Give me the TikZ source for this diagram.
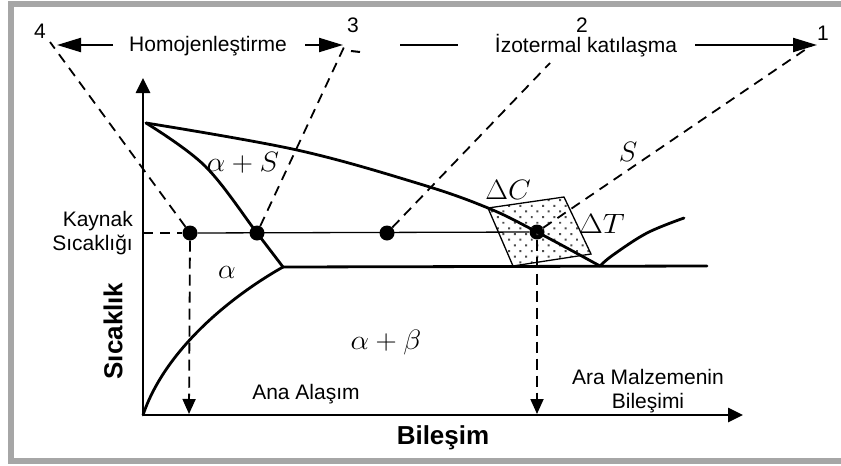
\RequirePackage{fix-cm}
\documentclass[tikz,border=0pt]{standalone}
\usepackage[no-math]{fontspec}
\setmainfont{Liberation Sans}
\usepackage{graphicx}
\usetikzlibrary{arrows.meta,patterns.meta}

\begin{document}
\begin{tikzpicture}[x=1pt,y=-1pt,
  curve/.style={line width=2.8pt, line join=round, line cap=round},
  axisline/.style={line width=2.6pt, -{Triangle[length=15pt,width=14pt]}},
  guide/.style={line width=1.8pt, dash pattern=on 10pt off 7pt},
  drop/.style={line width=1.8pt, dash pattern=on 11pt off 6pt, -{Triangle[length=15pt,width=13pt]}},
  toparrow/.style={line width=2.2pt, -{Triangle[length=24pt,width=14pt]}},
  dot/.style={circle, fill=black, inner sep=0pt, minimum size=15pt},
  txt/.style={font=\fontsize{21}{23}\selectfont, inner sep=0pt},
  bold/.style={font=\fontsize{26}{28}\selectfont\bfseries, inner sep=0pt},
  mth/.style={font=\fontsize{28}{30}\selectfont, inner sep=0pt}
]
\useasboundingbox (0,0) rectangle (841,466);
\clip (0,0) rectangle (841,466);

% outer frame
\draw[line width=6pt, color={rgb,255:red,166;green,166;blue,166}] (11,3.5) rectangle (860,461);

% axes
\coordinate (O) at (143,415);
\coordinate (ytop) at (143,78);
\coordinate (xend) at (743,415);
\draw[axisline] (O) -- (ytop);
\draw[axisline] (O) -- (xend);

% points at the welding temperature
\node[dot] (d1) at (190,233) {};
\node[dot] (d2) at (257,233) {};
\node[dot] (d3) at (387,233) {};
\node[dot] (d4) at (537,232) {};

% shaded window around the interface point
\coordinate (q1) at (488,208);
\coordinate (q2) at (564,197);
\coordinate (q3) at (591,254);
\coordinate (q4) at (513,266);
\draw[line width=1.3pt, pattern={Dots[distance=8pt, radius=1.4pt, angle=45]}, pattern color=black!70]
  (q1) -- (q2) -- (q3) -- (q4) -- cycle;

% phase boundaries
\coordinate (A) at (146,123);
\coordinate (E) at (283,267);
\coordinate (V) at (600,266);
\draw[curve] plot[smooth, tension=0.6] coordinates {(146,123) (297,150) (420,184) (488,208) (537,232) (600,266)};
\draw[curve] plot[smooth, tension=0.6] coordinates {(146,123) (205,166) (257,233) (283,267)};
\draw[curve] (E) .. controls (230,297) and (165,350) .. (O);
\draw[curve] (E) -- (707,266);
\draw[curve] plot[smooth, tension=0.6] coordinates {(600,266) (613,255) (647,233) (684,218)};

% welding temperature line
\coordinate (yk) at (143,233);
\draw[guide] (yk) -- (d1);
\draw[line width=1.3pt] (d1) -- (d4);

% guide lines to the numbered stages
\coordinate (p4) at (50,42);
\coordinate (p3) at (345,45);
\coordinate (p2) at (550,63);
\coordinate (p1) at (812,45);
\draw[guide] (d1) -- (p4);
\draw[guide] (d2) -- (p3);
\draw[guide] (d3) -- (p2);
\draw[guide] (d4) -- (p1);

% composition drop lines
\coordinate (c1) at (189,414);
\coordinate (c4) at (537,414);
\draw[drop] (d1) -- (c1);
\draw[drop] (d4) -- (c4);

% stage numbers
\node[txt] (n4) at (40,31) {4};
\node[txt] (n3) at (353,25) {3};
\node[txt] (n2) at (582,25) {2};
\node[txt] (n1) at (823,33) {1};

% process arrows along the top
\node[txt] (homo) at (208,46) {Homojenleştirme};
\node[txt] (izo) at (586,46) {İzotermal katılaşma};
\coordinate (t4) at (57,45);
\coordinate (t3) at (343,45);
\coordinate (t1) at (817,45);
\coordinate (h4) at (113,45);
\coordinate (h3) at (305,45);
\coordinate (h1) at (695,45);
\draw[toparrow] (h4) -- (t4);
\draw[toparrow] (h3) -- (t3);
\draw[toparrow] (h1) -- (t1);
\coordinate (m1) at (400,45);
\coordinate (m2) at (458,45);
\draw[line width=2.2pt] (m1) -- (m2);
\coordinate (k1) at (351,51);
\coordinate (k2) at (360,52);
\draw[line width=2pt] (k1) -- (k2);

% phase labels
\node[mth] (aS) at (243,163) {\scalebox{1.05}[1]{$\alpha+S$}};
\node[mth] (al) at (227,272) {$\alpha$};
\node[mth] (ab) at (386,342) {\scalebox{1.05}[1]{$\alpha+\beta$}};
\node[mth] (dC) at (508,190) {\scalebox{1.05}[1]{$\Delta C$}};
\node[mth] (dT) at (602,224) {\scalebox{1.1}[1]{$\Delta T$}};
\node[mth] (S) at (628,152) {$S$};

% axis and reference labels
\node[txt, align=right, anchor=east] (kay) at (133,233) {Kaynak\\[1pt]Sıcaklığı};
\node[bold, rotate=90] (ylab) at (113,331) {Sıcaklık};
\node[bold] (xlab) at (443,438) {Bileşim};
\node[txt] (ana) at (306,394) {Ana Alaşım};
\node[txt, align=center] (ara) at (648,391) {Ara Malzemenin\\[1pt]Bileşimi};
\end{tikzpicture}
\end{document}
